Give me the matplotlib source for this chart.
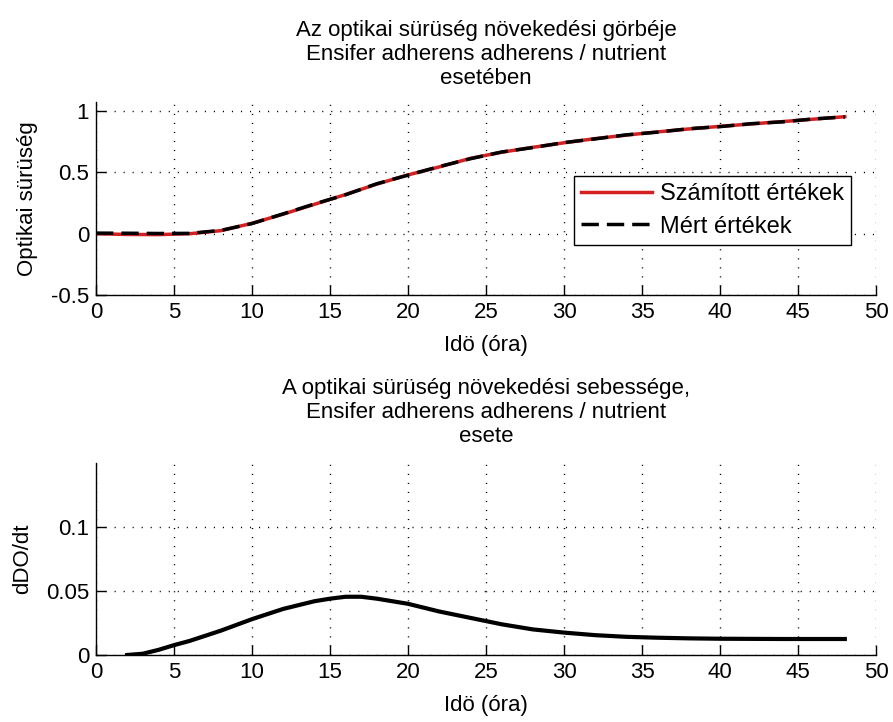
import numpy as np
import matplotlib
matplotlib.use("Agg")
from matplotlib import pyplot as plt


# Adatok ----------------------------->>>>>
ido = [0, 2, 4, 6, 8, 10, 12, 14, 16, 18, 20, 22, 24,
       26, 28, 30, 32, 34, 36, 38, 40, 42, 44, 46, 48]

szamitott = [0.0, -0.006, -0.007, 0.0, 0.025, 0.085, 0.16, 0.24, 0.32, 0.405, 0.48, 0.545, 0.615,
             0.665, 0.705, 0.742, 0.776, 0.805, 0.831, 0.855, 0.876, 0.896, 0.915, 0.935, 0.955]

mert = [0.005, 0.004, 0.002, 0.003, 0.027, 0.083, 0.162, 0.243, 0.318, 0.408, 0.478, 0.548, 0.612,
        0.667, 0.703, 0.744, 0.774, 0.807, 0.829, 0.857, 0.874, 0.898, 0.913, 0.937, 0.953]

ido_seb = [2, 3, 4, 5, 6, 8, 10, 12, 14, 15, 16, 17, 18, 20,
           22, 24, 26, 28, 30, 32, 34, 36, 38, 40, 44, 48]

sebesseg = [0.0, 0.001, 0.004, 0.0077, 0.011, 0.019, 0.028, 0.036, 0.042, 0.044, 0.0455, 0.0455, 0.044, 0.040,
            0.034, 0.029, 0.024, 0.020, 0.0175, 0.0155, 0.0142, 0.0135, 0.013, 0.0127, 0.0125, 0.0125]

x_ticks = [0, 5, 10, 15, 20, 25, 30, 35, 40, 45, 50]
y_ticks_1 = [-0.5, 0, 0.5, 1]
y_labels_1 = ['-0.5', '0', '0.5', '1']
y_ticks_2 = [0, 0.05, 0.1]
y_labels_2 = ['0', '0.05', '0.1']

cim_1 = 'Az optikai sürüség növekedési görbéje\nEnsifer adherens adherens / nutrient\nesetében'
cim_2 = 'A optikai sürüség növekedési sebessége,\nEnsifer adherens adherens / nutrient\nesete'


# Beállítások ----------------------------->>>>>
plt.rcParams['font.family'] = ['Liberation Sans', 'DejaVu Sans']
plt.rcParams['font.size'] = 16

fig = plt.figure(figsize=(8.93, 7.22), dpi=100)
ax1 = fig.add_axes([96 / 893, 1 - 295 / 722, 780 / 893, 193 / 722])
ax2 = fig.add_axes([96 / 893, 1 - 655 / 722, 780 / 893, 192 / 722])

racs = dict(color='black', linestyle=(0, (0.8, 5.7)), linewidth=1.0)


def alap(ax):
    # MATLAB-szerű tengely: doboz nélkül, befelé mutató jelölők
    ax.spines['top'].set_visible(False)
    ax.spines['right'].set_visible(False)
    for s in ['left', 'bottom']:
        ax.spines[s].set_linewidth(1.0)
    ax.tick_params(direction='in', length=7, width=1.0, pad=5, labelsize=16)
    ax.set_xlim(0, 50)
    ax.set_xticks(x_ticks)
    ax.set_xticklabels([str(v) for v in x_ticks])
    ax.grid(True, **racs)
    ax.set_axisbelow(True)
    ax.set_xlabel('Idö (óra)', labelpad=9)


# Felső ábra ----------------------------->>>>>
alap(ax1)
ax1.plot(ido, szamitott, color='#d42020', linewidth=2.5, label='Számított értékek')
ax1.plot(ido, mert, color='black', linewidth=2.5, linestyle=(0, (5, 2.3)), label='Mért értékek')
ax1.set_ylim(-0.5, 1.075)
ax1.set_yticks(y_ticks_1)
ax1.set_yticklabels(y_labels_1)
ax1.set_ylabel('Optikai sürüség')
ax1.yaxis.set_label_coords(-0.075, 0.5)
ax1.set_title(cim_1, pad=13, fontsize=16)

leg = ax1.legend(loc='lower right', bbox_to_anchor=(0.968, 0.26), borderaxespad=0,
                 fancybox=False, framealpha=1, edgecolor='black', fontsize=17,
                 handlelength=3.0, handletextpad=0.35, borderpad=0.3, labelspacing=0.45)
leg.get_frame().set_linewidth(1.0)

# Alsó ábra ----------------------------->>>>>
alap(ax2)
ax2.plot(ido_seb, sebesseg, color='black', linewidth=3)
ax2.set_ylim(0, 0.15)
ax2.set_yticks(y_ticks_2)
ax2.set_yticklabels(y_labels_2)
ax2.set_ylabel('dDO/dt')
ax2.yaxis.set_label_coords(-0.08, 0.5)
ax2.set_title(cim_2, pad=15, fontsize=16)

fig.savefig('out.png', dpi=100, facecolor='white')
